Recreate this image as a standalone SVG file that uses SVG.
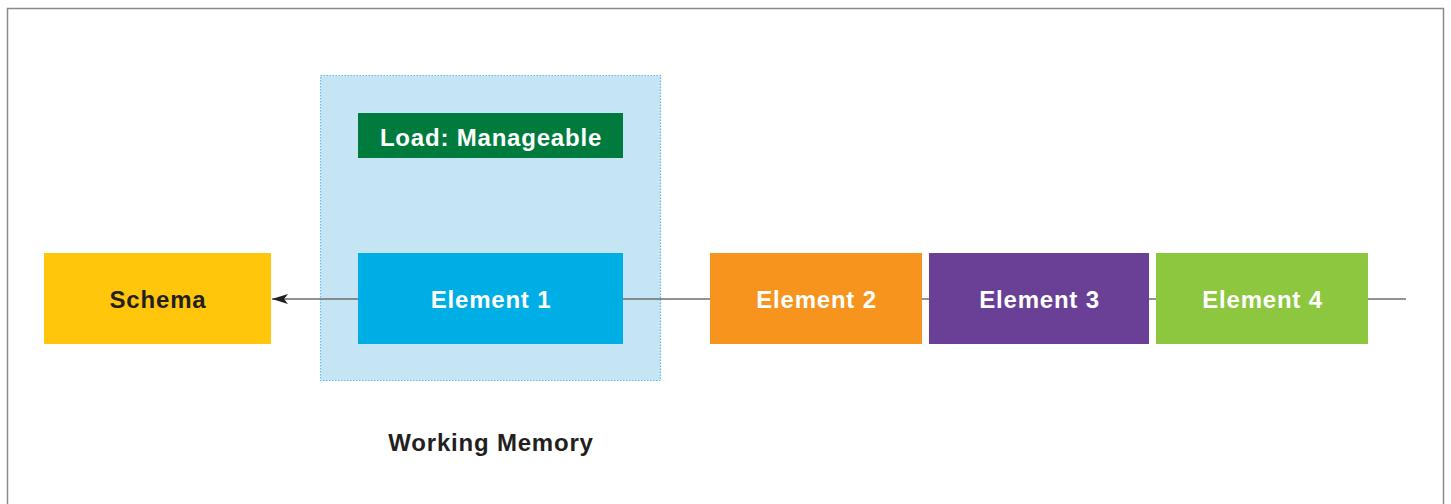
<svg xmlns="http://www.w3.org/2000/svg" width="1451" height="504" viewBox="0 0 1451 504">
  <style>
    .lbl { font-family: "Liberation Sans", Arial, sans-serif; font-weight: bold; font-size: 24px; letter-spacing: 0.8px; text-anchor: middle; }
    .w { fill: #ffffff; }
    .d { fill: #231f20; }
    .conn { stroke: #6d6e71; stroke-width: 1.5; fill: none; }
  </style>
  <defs>
    <marker id="arrow" viewBox="0 0 16 12" refX="16" refY="6" markerWidth="16" markerHeight="12" markerUnits="userSpaceOnUse" orient="auto">
      <path d="M0,1 L16,6 L0,11 L4,6 Z" fill="#231f20"/>
    </marker>
  </defs>

  <rect width="1451" height="504" fill="#ffffff"/>
  <!-- frame -->
  <path d="M7.5,504 V8.5 H1443.5 V504" fill="none" stroke="#8a8a8a" stroke-width="1.5"/>

  <!-- working memory region -->
  <g id="working-memory">
    <rect x="320.5" y="75.5" width="340" height="305" fill="#c5e4f4" stroke="#5bbde8" stroke-width="1.2" stroke-dasharray="1.5 1.5"/>
    <text class="lbl d" x="491" y="451">Working Memory</text>
  </g>

  <!-- connectors -->
  <g id="connectors">
    <line class="conn" x1="623" y1="299" x2="1406" y2="299"/>
    <line class="conn" x1="358" y1="299" x2="272" y2="299" marker-end="url(#arrow)"/>
  </g>

  <g id="load">
    <rect x="358" y="113" width="265" height="45" fill="#007b3e"/>
    <text class="lbl w" x="491" y="146">Load: Manageable</text>
  </g>

  <g id="schema">
    <rect x="44" y="253" width="227" height="91" fill="#ffc60b"/>
    <text class="lbl d" x="158" y="308">Schema</text>
  </g>

  <g id="element-1">
    <rect x="358" y="253" width="265" height="91" fill="#00aee6"/>
    <text class="lbl w" x="491" y="308">Element 1</text>
  </g>

  <g id="element-2">
    <rect x="710" y="253" width="212" height="91" fill="#f7941d"/>
    <text class="lbl w" x="816.5" y="308">Element 2</text>
  </g>

  <g id="element-3">
    <rect x="929" y="253" width="220" height="91" fill="#6a3f96"/>
    <text class="lbl w" x="1039.5" y="308">Element 3</text>
  </g>

  <g id="element-4">
    <rect x="1156" y="253" width="212" height="91" fill="#8dc63f"/>
    <text class="lbl w" x="1262.5" y="308">Element 4</text>
  </g>
</svg>
